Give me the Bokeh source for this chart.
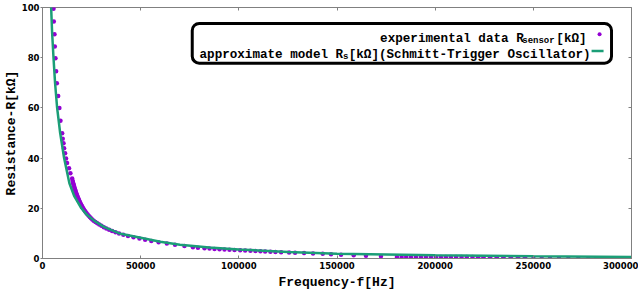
from bokeh.plotting import figure
from bokeh.models import (Range1d, LinearAxis, SingleIntervalTicker, BasicTickFormatter,
                          CustomJSTickFormatter, Label, BoxAnnotation, ColumnDataSource)
from bokeh.embed import file_html
from bokeh.resources import INLINE

# ---------------- data ----------------
# experimental data: frequency [Hz] and resistance [kOhm]
exp_freq_top = [5600, 5750, 6100, 6250, 6600, 6950, 7300, 8000, 8600, 9150,
                10000, 10300, 10700, 11000, 11500, 12000, 12500, 13500, 14200, 15100]
exp_res_top = [99.5, 94.4, 89.3, 84.5, 79.8, 74.6, 69.8, 64.7, 60.0, 54.9,
               49.9, 47.7, 45.9, 43.9, 41.9, 39.8, 38.0, 36.0, 34.0, 31.9]

exp_freq_knee = [15320, 15480, 15650, 15820, 16000, 16180, 16370, 16570, 16770, 16980,
                 17200, 17430, 17670, 17920, 18180, 18450, 18720, 19020, 19320, 19650,
                 19980, 20330, 20700, 21110, 21530, 21980, 22440, 22980, 23530, 24100,
                 24690, 25370, 26070, 26970, 27910, 28950, 30050, 31250, 32530, 33960,
                 35470, 37180, 39000, 41180, 43560, 46350, 49380, 52280, 55430, 59160,
                 63330, 67500, 72300]
exp_res_knee = [31, 30.5, 30, 29.5, 29, 28.5, 28, 27.5, 27, 26.5,
                26, 25.5, 25, 24.5, 24, 23.5, 23, 22.5, 22, 21.5,
                21, 20.5, 20, 19.5, 19, 18.5, 18, 17.5, 17, 16.5,
                16, 15.5, 15, 14.5, 14, 13.5, 13, 12.5, 12, 11.5,
                11, 10.5, 10, 9.5, 9, 8.5, 8, 7.5, 7, 6.5,
                6, 5.5, 5.0]

exp_freq_tail = [76630, 79170, 82530, 85070, 87620, 90160, 92700, 95240, 97790, 100680,
                 103230, 105920, 108460, 111000, 113400, 116090, 118630, 121530, 125600, 128650,
                 133230, 137800, 142740, 146960, 152050, 158500, 164760, 172390]
exp_res_tail = [4.5, 4.3, 4.1, 3.95, 3.8, 3.7, 3.6, 3.5, 3.4, 3.3,
                3.2, 3.1, 3.0, 2.9, 2.8, 2.7, 2.6, 2.5, 2.4, 2.3,
                2.15, 2.0, 1.85, 1.7, 1.5, 1.3, 1.1, 0.9]

exp_freq_high = [180520, 182910, 185250, 187640, 190180, 192720, 195260, 197810, 200350, 202890,
                 205430, 207980, 210670, 213420, 216110, 219010, 221860, 224600, 227960, 231370,
                 234770, 238490, 242200, 245760, 250030, 254250, 258470, 263050, 267830, 272910,
                 278000, 283890, 289845, 295790]
exp_res_high = [0.6, 0.6, 0.6, 0.6, 0.6, 0.6, 0.6, 0.6, 0.55, 0.55,
                0.55, 0.55, 0.55, 0.55, 0.55, 0.55, 0.5, 0.5, 0.5, 0.5,
                0.5, 0.5, 0.5, 0.5, 0.1, 0.1, 0.1, 0.1, 0.1, 0.1,
                0.1, 0.1, 0.1, 0.1]

# approximate model curve (Schmitt-Trigger oscillator)
model_freq = [4000, 4400, 4900, 5600, 6400, 7450, 9000, 11000, 13700, 16100, 19800, 22500,
              26400, 31500, 39200, 50000, 60000, 70000, 85000, 100000, 125000, 150000,
              200000, 250000, 300000]
model_res = [110, 100, 90, 80, 70, 60, 50, 40, 30, 25, 20, 17.5,
             15, 12.5, 10, 8.3, 6.7, 5.5, 4.4, 3.6, 2.6, 1.9,
             1.3, 0.9, 0.6]

x_ticks_step = 50000
y_ticks_step = 20

PURPLE = "#9400d3"
GREEN = "#1b9e77"
GREY = "#808080"
MONO = "Liberation Mono"
SANS = "DejaVu Sans"

exp_src = ColumnDataSource(dict(
    f=exp_freq_top + exp_freq_knee + exp_freq_tail + exp_freq_high,
    r=exp_res_top + exp_res_knee + exp_res_tail + exp_res_high,
))
model_src = ColumnDataSource(dict(f=model_freq, r=model_res))

p = figure(width=638, height=292, x_range=Range1d(0, 300000), y_range=Range1d(0, 100),
           output_backend="svg", toolbar_location=None,
           min_border_left=41, min_border_right=7, min_border_top=7, min_border_bottom=33)
p.background_fill_color = "white"
p.border_fill_color = "white"
p.outline_line_color = GREY
p.outline_line_width = 1
p.grid.visible = False

xt = SingleIntervalTicker(interval=x_ticks_step, num_minor_ticks=0)
yt = SingleIntervalTicker(interval=y_ticks_step, num_minor_ticks=0)

xa = p.xaxis[0]
xa.ticker = xt
xa.formatter = BasicTickFormatter(use_scientific=False)
xa.axis_label = "Frequency-f[Hz]"
ya = p.yaxis[0]
ya.ticker = yt
ya.axis_label = "Resistance-R[kΩ]"

for ax in (xa, ya):
    ax.axis_line_color = GREY
    ax.major_tick_line_color = GREY
    ax.minor_tick_line_color = None
    ax.major_label_text_font = SANS
    ax.major_label_text_font_style = "bold"
    ax.major_label_text_font_size = "8.5px"
    ax.major_label_text_color = "black"
    ax.axis_label_text_font = MONO
    ax.axis_label_text_font_style = "bold"
    ax.axis_label_text_font_size = "13px"
    ax.axis_label_text_color = "black"

xa.major_tick_in = 3
xa.major_tick_out = 0
xa.major_label_standoff = 3
xa.axis_label_standoff = 3
ya.major_tick_in = 0
ya.major_tick_out = 2
ya.major_label_standoff = 1
ya.axis_label_standoff = 0

blank = CustomJSTickFormatter(code="return ''")
top = LinearAxis(ticker=xt, formatter=blank, major_label_standoff=0,
                 major_tick_in=3, major_tick_out=0, axis_line_color=None,
                 major_tick_line_color=GREY, minor_tick_line_color=None)
right = LinearAxis(ticker=yt, formatter=blank, major_label_standoff=0,
                   major_tick_in=3, major_tick_out=0, axis_line_color=None,
                   major_tick_line_color=GREY, minor_tick_line_color=None)
p.add_layout(top, "above")
p.add_layout(right, "right")

p.scatter("f", "r", source=exp_src, marker="circle", size=4.5,
          fill_color=PURPLE, line_color=None)
p.line("f", "r", source=model_src, line_width=2.5, line_color=GREEN)

# legend (text right aligned, sample on the right)
p.add_layout(BoxAnnotation(left=76270, right=289830, bottom=77.8, top=93.65,
                           fill_color="white", fill_alpha=1.0, line_color="black",
                           line_alpha=1.0, line_width=3, border_radius=7))


def legend_text(x, y, text, size="12.6px"):
    p.add_layout(Label(x=x, y=y, text=text, text_align="right", text_baseline="alphabetic",
                       text_font=MONO, text_font_style="bold", text_font_size=size,
                       text_color="black"))


# row 1: experimental data R_sensor [kΩ]
legend_text(277130, 87.6, "[kΩ]")
legend_text(260860, 86.6, "sensor", size="9px")
legend_text(245100, 87.6, "experimental data R")
# row 2: approximate model R_s[kΩ](Schmitt-Trigger Oscillator)
legend_text(279160, 81.2, "[kΩ](Schmitt-Trigger Oscillator)")
legend_text(155850, 80.2, "s", size="9px")
legend_text(153110, 81.2, "approximate model R")

p.add_layout(BoxAnnotation(left=282720, right=284760, bottom=88.5, top=90.1,
                           fill_color=PURPLE, fill_alpha=1.0, line_color=None, border_radius=2))
p.add_layout(BoxAnnotation(left=279670, right=285770, bottom=82.16, top=83.16,
                           fill_color=GREEN, fill_alpha=1.0, line_color=None))

open("out.html", "w").write(file_html(p, INLINE))
